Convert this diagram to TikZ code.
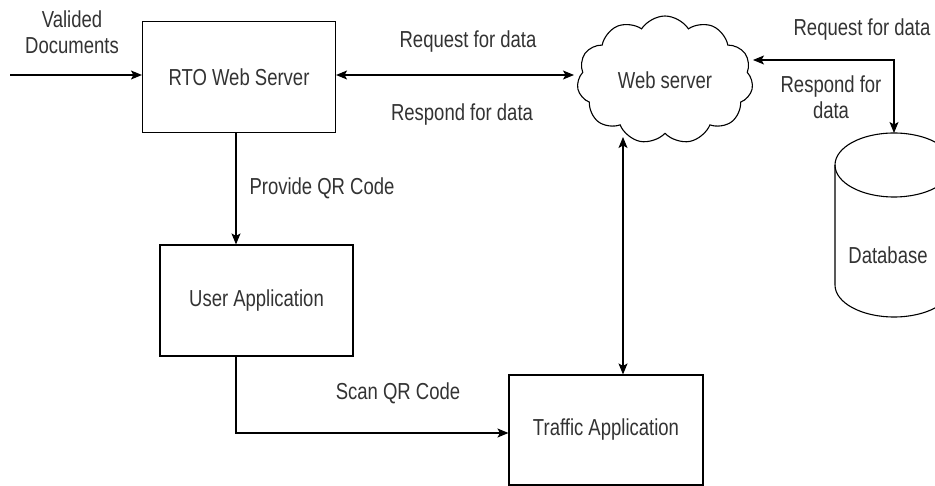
\documentclass[tikz,border=0pt]{standalone}
\usepackage{fontspec}
\setmainfont{Liberation Sans}
\usetikzlibrary{arrows.meta,shapes.symbols}
\definecolor{ink}{HTML}{333333}
\newcommand{\lbl}[1]{\scalebox{1}[1.25]{#1}}
\tikzset{
  box/.style={draw=black, line width=1.1pt, fill=white, minimum width=193pt, minimum height=111pt, inner sep=0pt, text=ink, font=\fontsize{18.5}{20}\selectfont},
  tag/.style={text=ink, font=\fontsize{18.5}{22}\selectfont, inner sep=0pt, align=center},
  arr/.style={draw=black, line width=1.1pt, -{Stealth[length=11pt,width=9pt,inset=2.5pt]}},
  arrs/.style={draw=black, line width=1.1pt, {Stealth[length=11pt,width=9pt,inset=2.5pt]}-{Stealth[length=11pt,width=9pt,inset=2.5pt]}},
}
\begin{document}
\begin{tikzpicture}[x=1pt,y=-1pt]
  \path[use as bounding box, fill=white] (0,0) rectangle (935,486);
  \begin{scope}
  \clip (0,0) rectangle (935,486);

  % process boxes
  \node[box] (rto) at (239,77) {\lbl{RTO Web Server}};
  \node[box] (user) at (256.5,300.5) {\lbl{User Application}};
  \node[box, minimum width=194pt, minimum height=110pt] (traffic) at (606,430) {\lbl{Traffic Application}};

  % central web server cloud
  \node[cloud, draw=black, line width=1.1pt, cloud puffs=11, cloud puff arc=115, aspect=1.35,
        minimum width=176pt, minimum height=128pt, inner sep=0pt, text=ink,
        font=\fontsize{18.5}{20}\selectfont] (cloud) at (665,80) {\lbl{Web server}};

  % database cylinder (y axis points down here)
  \coordinate (dbtop) at (894,133);
  \draw[line width=1.1pt, fill=white] (835,165) -- (835,285)
        arc[start angle=180, end angle=0, x radius=59, y radius=32]
        -- (953,165)
        arc[start angle=0, end angle=-180, x radius=59, y radius=32] -- cycle;
  \draw[line width=1.1pt] (835,165) arc[start angle=180, end angle=0, x radius=59, y radius=32];
  \node[tag] (db) at (888,255) {\lbl{Database}};

  % connectors
  \coordinate (docin) at (10,75);
  \draw[arr] (docin) -- (docin -| rto.west);
  \node[tag] (docs) at (72,32) {\lbl{Valided}\\[4pt]\lbl{Documents}};

  \coordinate (cl) at (574,75);
  \draw[arrs] (rto.east |- cl) -- (cl);
  \node[tag] (req1) at (468,42) {\lbl{Request for data}};
  \node[tag] (resp1) at (462,115) {\lbl{Respond for data}};

  \coordinate (cr) at (753,60);
  \draw[arrs] (cr) -| (dbtop);
  \node[tag] (req2) at (862,30) {\lbl{Request for data}};
  \node[tag] (resp2) at (831,97) {\lbl{Respond for}\\[4pt]\lbl{data}};

  \draw[arr] (rto.south -| 236,0) -- (user.north -| 236,0);
  \node[tag] (qr1) at (322,188) {\lbl{Provide QR Code}};

  \coordinate (cb) at (623,137);
  \draw[arrs] (cb) -- (cb |- traffic.north);

  \coordinate (ub) at (236,0);
  \draw[arr] (user.south -| ub) |- (traffic.west |- 0,433);
  \node[tag] (qr2) at (398,393) {\lbl{Scan QR Code}};
  \end{scope}
\end{tikzpicture}
\end{document}
